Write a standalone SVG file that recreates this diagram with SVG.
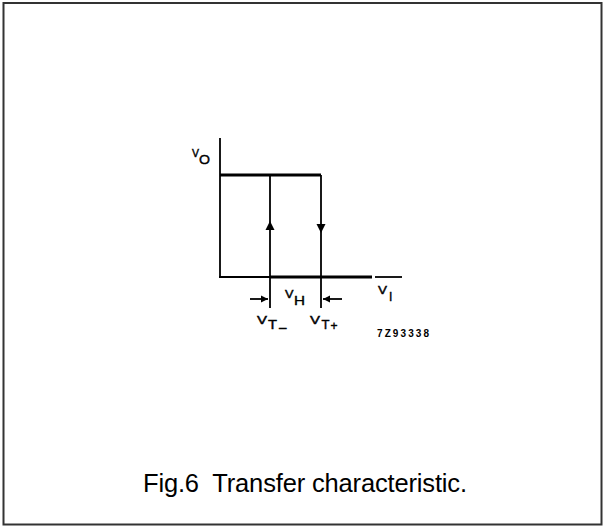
<svg xmlns="http://www.w3.org/2000/svg" width="603" height="526" viewBox="0 0 603 526">
<style>
.ln{stroke:#000;stroke-width:1.8;fill:none}
.thk{stroke:#000;stroke-width:3;fill:none}
.lbl{font-family:"Liberation Sans",Arial,sans-serif;fill:#000;stroke:#000;stroke-width:0.4}
.cap{font-family:"Liberation Sans",Arial,sans-serif;fill:#000;font-size:25.5px;white-space:pre}
.code{font-family:"Liberation Sans",Arial,sans-serif;font-weight:bold;font-size:10px;fill:#000}
</style>
<defs>
<marker id="ah" viewBox="0 0 10 10" refX="10" refY="5" markerWidth="4" markerHeight="4" orient="auto" markerUnits="strokeWidth">
<path d="M0,0 L10,5 L0,10 Z" fill="#000"/>
</marker>
</defs>
<rect width="603" height="526" fill="#fff"/>
<g id="frame">
<rect x="3.5" y="3" width="598" height="521.5" fill="none" stroke="#333" stroke-width="2"/>
</g>
<g id="connectors">
<line class="ln" x1="220" y1="138" x2="220" y2="277"/>
<line class="ln" x1="219" y1="277" x2="270" y2="277"/>
<line class="thk" x1="220" y1="175" x2="321" y2="175"/>
<line class="thk" x1="270" y1="277" x2="372" y2="277"/>
<line class="ln" x1="375" y1="277" x2="402" y2="277"/>
<line class="ln" x1="270" y1="175" x2="270" y2="308"/>
<line class="ln" x1="321" y1="175" x2="321" y2="308"/>
<polygon points="270,221 265.5,230 274.5,230" fill="#000"/>
<polygon points="316.5,224 325.5,224 321,233" fill="#000"/>
<line class="ln" x1="250" y1="299" x2="268" y2="299" marker-end="url(#ah)"/>
<line class="ln" x1="342" y1="299" x2="323" y2="299" marker-end="url(#ah)"/>
</g>
<g id="label-vo"><text class="lbl" x="192" y="157" font-size="10" textLength="7" lengthAdjust="spacingAndGlyphs">V</text><text class="lbl" x="199" y="164" font-size="12.5" textLength="11" lengthAdjust="spacingAndGlyphs">O</text></g>
<g id="label-vh"><text class="lbl" x="285" y="298" font-size="10" textLength="8.5" lengthAdjust="spacingAndGlyphs">V</text><text class="lbl" x="294" y="305" font-size="13.5" textLength="11" lengthAdjust="spacingAndGlyphs">H</text></g>
<g id="label-vi"><text class="lbl" x="378" y="294" font-size="10" textLength="9" lengthAdjust="spacingAndGlyphs">V</text><text class="lbl" x="389" y="301" font-size="12">I</text></g>
<g id="label-vtm"><text class="lbl" x="257" y="323.5" font-size="10" textLength="10" lengthAdjust="spacingAndGlyphs">V</text><text class="lbl" x="268" y="329" font-size="12.5" textLength="9" lengthAdjust="spacingAndGlyphs">T</text><text class="lbl" x="278" y="333" font-size="14" textLength="9" lengthAdjust="spacingAndGlyphs">−</text></g>
<g id="label-vtp"><text class="lbl" x="310" y="323.5" font-size="10" textLength="10" lengthAdjust="spacingAndGlyphs">V</text><text class="lbl" x="321.5" y="329" font-size="12.5" textLength="8" lengthAdjust="spacingAndGlyphs">T</text><text class="lbl" x="330.5" y="330" font-size="12">+</text></g>
<g id="label-code"><text class="code" x="377" y="337" textLength="52" lengthAdjust="spacing">7Z93338</text></g>
<g id="caption"><text class="cap" x="143" y="492" xml:space="preserve" textLength="324" lengthAdjust="spacing">Fig.6  Transfer characteristic.</text></g>
</svg>
